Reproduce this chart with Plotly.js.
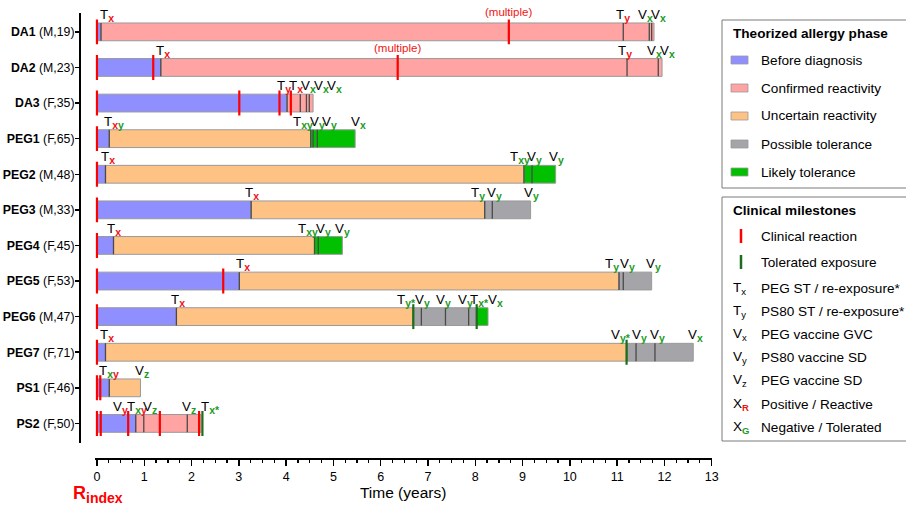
<!DOCTYPE html>
<html><head><meta charset="utf-8">
<script src="https://cdn.plot.ly/plotly-3.0.1.min.js"></script>
<style>html,body{margin:0;padding:0;background:#fff}</style>
</head><body><div id="chart" style="width:906px;height:510px"></div>
<script>
// ---------------- DATA ----------------
const patients = ['DA1','DA2','DA3','PEG1','PEG2','PEG3','PEG4','PEG5','PEG6','PEG7','PS1','PS2'];
const sexAge   = ['(M,19)','(M,23)','(F,35)','(F,65)','(M,48)','(M,33)','(F,45)','(F,53)','(M,47)','(F,71)','(F,46)','(F,50)'];
// phases: B before diagnosis, C confirmed, U uncertain, P possible tolerance, L likely tolerance
const phaseSeq = [
  ['B','C'], ['B','C'], ['B','C'], ['B','U','L'], ['B','U','L'], ['B','U','P'],
  ['B','U','L'], ['B','U','P'], ['B','U','P','L'], ['B','U','P'], ['B','U'], ['B','C']
];
const phaseBounds = [
  [0, 0.085, 11.78], [0, 1.35, 11.95], [0, 4.02, 4.57], [0, 0.26, 4.52, 5.46],
  [0, 0.18, 9.03, 9.70], [0, 3.26, 8.20, 9.17], [0, 0.35, 4.60, 5.19], [0, 3.01, 11.04, 11.73],
  [0, 1.68, 6.69, 8.03, 8.27], [0, 0.18, 11.20, 12.61], [0, 0.26, 0.92], [0, 0.82, 2.20]
];
const reactions = [
  [0, 8.71], [0, 1.19, 6.36], [0, 3.01, 3.86, 4.10], [0], [0], [0],
  [0], [0, 2.67], [0], [0], [0, 0.07], [0, 0.08, 0.66, 1.33, 2.16]
];
const toleratedExposures = [[], [], [], [], [], [], [], [], [6.69, 8.03], [11.20], [], [2.23]];
const otherExposures = [
  [11.13, 11.68, 11.73], [11.21, 11.87], [4.30, 4.43, 4.49], [4.57, 4.66],
  [9.20], [8.36], [4.68], [11.13], [6.86, 7.37, 7.86], [11.40, 11.80], [], [0.99, 1.91]
];
// milestone labels: [x (years), letter, subscript letters, subscript colours r/g]
const milestoneLabels = [
  [[0.22,'T','x','r'], [11.12,'T','y','r'], [11.59,'V','x','g'], [11.87,'V','x','g']],
  [[1.40,'T','x','r'], [11.17,'T','y','r'], [11.80,'V','x','g'], [12.07,'V','x','g']],
  [[3.95,'T','y','r'], [4.20,'T','x','r'], [4.47,'V','x','g'], [4.75,'V','x','g'], [5.03,'V','x','g']],
  [[0.36,'T','xy','rg'], [4.35,'T','xy','gg'], [4.67,'V','y','g'], [4.92,'V','y','g'], [5.53,'V','x','g']],
  [[0.23,'T','x','r'], [8.94,'T','xy','gg'], [9.26,'V','y','g'], [9.71,'V','y','g']],
  [[3.28,'T','x','r'], [8.05,'T','y','g'], [8.40,'V','y','g'], [9.18,'V','y','g']],
  [[0.36,'T','x','r'], [4.46,'T','xy','gg'], [4.79,'V','y','g'], [5.20,'V','y','g']],
  [[3.08,'T','x','r'], [10.90,'T','y','g'], [11.21,'V','y','g'], [11.77,'V','y','g']],
  [[1.71,'T','x','r'], [6.55,'T','y*','gg'], [6.88,'V','y','g'], [7.32,'V','y','g'], [7.80,'V','y','g'], [8.08,'T','x*','gg'], [8.42,'V','x','g']],
  [[0.21,'T','x','r'], [11.09,'V','y*','gg'], [11.48,'V','y','g'], [11.86,'V','y','g'], [12.66,'V','x','g']],
  [[0.26,'T','xy','gr'], [0.95,'V','z','g']],
  [[0.50,'V','y','r'], [0.84,'T','xy','gr'], [1.12,'V','z','g'], [1.95,'V','z','g'], [2.40,'T','x*','g']]
];
const multipleNotes = [[0, 8.71], [1, 6.36]]; // [row, x]
const xTicks = [0,1,2,3,4,5,6,7,8,9,10,11,12,13];
const phaseKeys   = ['B','C','U','P','L'];
const phaseNames  = ['Before diagnosis','Confirmed reactivity','Uncertain reactivity','Possible tolerance','Likely tolerance'];
const milestoneSymbols = [['T','x'],['T','y'],['V','x'],['V','y'],['V','z']];
const milestoneNames   = ['PEG ST / re-exposure*','PS80 ST / re-exposure*','PEG vaccine GVC','PS80 vaccine SD','PEG vaccine SD'];

// ---------------- STYLE ----------------
const FONT = 'Arial, "Liberation Sans", sans-serif';
const phaseColors = {B:'#8f8fff', C:'#ffa3a3', U:'#ffc285', P:'#a4a4a9', L:'#00c000'};
const RED = '#f01414', GREEN = '#1e9a1e', DKGREEN = '#1b6e1b';
const W = 906, H = 510;
const PX = x => x / W, PY = y => 1 - y / H;
const BAR_HALF = 0.25, TALL_HALF = 0.35;
const LEG = 13.6;

// ---------------- TRACES ----------------
const traces = [];
phaseKeys.forEach(k => {
  const y = [], base = [], len = [];
  phaseSeq.forEach((seq, r) => {
    seq.forEach((p, i) => {
      if (p === k) { y.push(r); base.push(phaseBounds[r][i]); len.push(phaseBounds[r][i+1] - phaseBounds[r][i]); }
    });
  });
  traces.push({type:'bar', orientation:'h', y, base, x:len, width:0.5,
    marker:{color:phaseColors[k], line:{color:'#9a9a9a', width:1}}, hoverinfo:'skip', showlegend:false});
});
function lineTrace(events, half, color, width) {
  const x = [], y = [];
  events.forEach((list, r) => list.forEach(t => { x.push(t, t, null); y.push(r - half, r + half, null); }));
  return {type:'scatter', mode:'lines', x, y, line:{color, width}, hoverinfo:'skip', showlegend:false};
}
const boundaries = phaseBounds.map(b => b.slice(1, -1));
traces.push(lineTrace(boundaries, BAR_HALF, '#4a4a4a', 1.3));
traces.push(lineTrace(otherExposures, BAR_HALF, '#4a4a4a', 1.3));
traces.push(lineTrace(reactions, TALL_HALF, '#ff0000', 2.2));
traces.push(lineTrace(toleratedExposures, TALL_HALF, DKGREEN, 2.2));

// ---------------- ANNOTATIONS ----------------
const ann = [];
function subHtml(letters, cols) {
  let s = '';
  for (let i = 0; i < letters.length; i++) {
    const c = (cols[i] || cols[cols.length-1]) === 'r' ? RED : GREEN;
    s += `<span style="color:${c}">${letters[i]}</span>`;
  }
  return `<sub><span style="font-size:10.5px"><b>${s}</b></span></sub>`;
}
milestoneLabels.forEach((list, r) => list.forEach(([x, m, sub, cols]) => {
  ann.push({xref:'x', yref:'y', x, y:r - BAR_HALF, yanchor:'bottom', xanchor:'center', showarrow:false, yshift:-2,
    borderpad:0, text: m + subHtml(sub, cols), font:{family:FONT, size:13.3, color:'#000'}});
}));
multipleNotes.forEach(([r, x]) => {
  ann.push({xref:'x', yref:'y', x, y:r - TALL_HALF, yanchor:'bottom', xanchor:'center', showarrow:false,
    borderpad:0, text:'(multiple)', font:{family:FONT, size:11.5, color:RED}});
});
// R index
ann.push({xref:'paper', yref:'paper', x:PX(97.5), y:PY(494), xanchor:'center', yanchor:'middle', showarrow:false,
  text:`<b>R<sub><span style="font-size:14px">index</span></sub></b>`, font:{family:FONT, size:18, color:'#ff0000'}});

// legend boxes
const shapes = [];
shapes.push({type:'rect', xref:'paper', yref:'paper', x0:PX(722), x1:PX(912), y0:PY(20), y1:PY(188), line:{color:'#7a7a7a', width:1}});
shapes.push({type:'rect', xref:'paper', yref:'paper', x0:PX(722), x1:PX(912), y0:PY(197), y1:PY(441), line:{color:'#7a7a7a', width:1}});
ann.push({xref:'paper', yref:'paper', x:PX(731), y:PY(34), xanchor:'left', yanchor:'middle', showarrow:false,
  text:'<b>Theorized allergy phase</b>', font:{family:FONT, size:LEG, color:'#000'}});
phaseKeys.forEach((k, i) => {
  const cy = 60 + i * 28;
  shapes.push({type:'rect', xref:'paper', yref:'paper', x0:PX(731), x1:PX(748), y0:PY(cy - 4), y1:PY(cy + 4),
    fillcolor:phaseColors[k], line:{color:'#9a9a9a', width:0.8}});
  ann.push({xref:'paper', yref:'paper', x:PX(759), y:PY(cy), xanchor:'left', yanchor:'middle', showarrow:false,
    text:phaseNames[i], font:{family:FONT, size:LEG, color:'#000'}});
});
ann.push({xref:'paper', yref:'paper', x:PX(731), y:PY(210), xanchor:'left', yanchor:'middle', showarrow:false,
  text:'<b>Clinical milestones</b>', font:{family:FONT, size:LEG, color:'#000'}});
[['Clinical reaction', '#ff0000', 236], ['Tolerated exposure', DKGREEN, 262]].forEach(([name, c, cy]) => {
  shapes.push({type:'line', xref:'paper', yref:'paper', x0:PX(741), x1:PX(741), y0:PY(cy - 7), y1:PY(cy + 7), line:{color:c, width:2.5}});
  ann.push({xref:'paper', yref:'paper', x:PX(759), y:PY(cy), xanchor:'left', yanchor:'middle', showarrow:false,
    text:name, font:{family:FONT, size:LEG, color:'#000'}});
});
milestoneSymbols.forEach(([m, s], i) => {
  const cy = 288 + i * 23.2;
  ann.push({xref:'paper', yref:'paper', x:PX(731), y:PY(cy), xanchor:'left', yanchor:'middle', showarrow:false,
    text:`${m}<sub>${s}</sub>`, font:{family:FONT, size:LEG, color:'#000'}});
  ann.push({xref:'paper', yref:'paper', x:PX(759), y:PY(cy), xanchor:'left', yanchor:'middle', showarrow:false,
    text:milestoneNames[i], font:{family:FONT, size:LEG, color:'#000'}});
});
[['R', RED, 'Positive / Reactive', 404], ['G', GREEN, 'Negative / Tolerated', 427]].forEach(([s, c, name, cy]) => {
  ann.push({xref:'paper', yref:'paper', x:PX(731), y:PY(cy), xanchor:'left', yanchor:'middle', showarrow:false,
    text:`X<sub><b><span style="color:${c}">${s}</span></b></sub>`, font:{family:FONT, size:LEG, color:'#000'}});
  ann.push({xref:'paper', yref:'paper', x:PX(759), y:PY(cy), xanchor:'left', yanchor:'middle', showarrow:false,
    text:name, font:{family:FONT, size:LEG, color:'#000'}});
});

// ---------------- LAYOUT ----------------
const layout = {
  width:W, height:H, margin:{l:0, r:0, t:0, b:0}, paper_bgcolor:'#fff', plot_bgcolor:'#fff',
  barmode:'overlay', showlegend:false, font:{family:FONT, color:'#000'},
  xaxis:{domain:[PX(94.6), PX(711.7)], range:[-0.05, 13], anchor:'free', position:PY(459),
    showline:true, linewidth:2, linecolor:'#000', ticks:'outside', ticklen:6, tickwidth:1.5, tickcolor:'#000',
    tickvals:xTicks, ticktext:xTicks.map(String), showgrid:false, zeroline:false,
    minor:{dtick:0.25, tick0:0, ticks:'outside', ticklen:3, tickwidth:1.2, tickcolor:'#000', showgrid:false},
    tickfont:{size:12.5, family:FONT, color:'#000'},
    title:{text:'Time (years)', font:{size:15.5, family:FONT, color:'#000'}, standoff:3}},
  yaxis:{domain:[PY(443), PY(13)], range:[11.55, -0.53], anchor:'free', position:PX(80),
    showline:true, linewidth:2, linecolor:'#000', ticks:'outside', ticklen:4, tickwidth:1.5, tickcolor:'#000',
    tickvals:patients.map((p, i) => i), ticktext:patients.map((p, i) => `<b>${p}</b> ${sexAge[i]}`),
    ticklabelstandoff:-2,
    showgrid:false, zeroline:false, tickfont:{size:12.3, family:FONT, color:'#000'}},
  annotations:ann, shapes:shapes
};
Plotly.newPlot('chart', traces, layout, {displayModeBar:false, staticPlot:true});
</script></body></html>
